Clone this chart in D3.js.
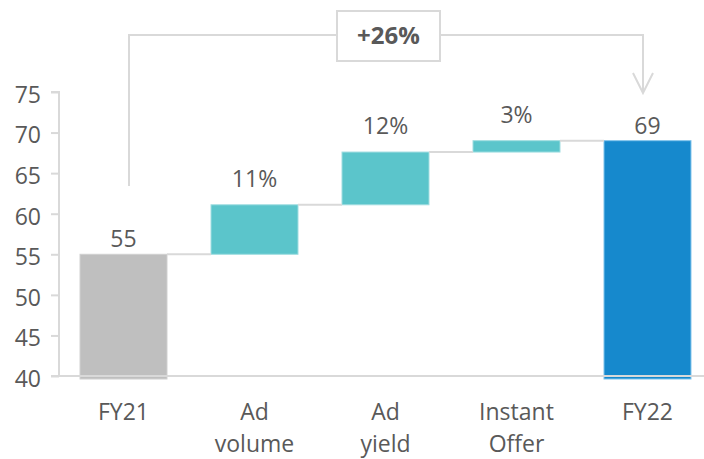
<!DOCTYPE html>
<html>
<head>
<meta charset="utf-8">
<script src="https://cdn.jsdelivr.net/npm/d3@7"></script>
<style>
  html, body { margin: 0; padding: 0; background: #fff; }
  svg { display: block; font-family: "Open Sans", "Noto Sans", sans-serif; }
</style>
</head>
<body>
<svg id="chart" width="704" height="459"></svg>
<script>
// Revenue bridge FY21 -> FY22
const categories = ["FY21", "Ad volume", "Ad yield", "Instant Offer", "FY22"];
const categoryLines = [["FY21"], ["Ad", "volume"], ["Ad", "yield"], ["Instant", "Offer"], ["FY22"]];
const startValue = 55;
const deltas = [6.1, 6.5, 1.4];            // Ad volume, Ad yield, Instant Offer
const endValue = 69;
const deltaLabels = ["11%", "12%", "3%"];
const totalChangeLabel = "+26%";
const yTicks = [40, 45, 50, 55, 60, 65, 70, 75];

const textColor = "#595959";
const lineColor = "#d9d9d9";
const colors = { start: "#bfbfbf", delta: "#5bc5cb", end: "#1689cd" };
const fontSize = 23;

// Build waterfall segments
const bars = [];
bars.push({ cat: categories[0], y0: 40, y1: startValue, type: "start", label: String(startValue) });
let running = startValue;
deltas.forEach((d, i) => {
  bars.push({ cat: categories[i + 1], y0: running, y1: running + d, type: "delta", label: deltaLabels[i] });
  running += d;
});
bars.push({ cat: categories[4], y0: 40, y1: endValue, type: "end", label: String(endValue) });

const svg = d3.select("#chart");

const x = d3.scaleBand().domain(categories).range([36, 735]).padding(0.336);
const y = d3.scaleLinear().domain([40, 75]).range([376, 92]);
const bw = x.bandwidth();

// Bars (they run slightly below the baseline)
svg.append("g").selectAll("rect").data(bars).join("rect")
  .attr("x", d => x(d.cat))
  .attr("y", d => y(d.y1))
  .attr("width", bw)
  .attr("height", d => d.type === "delta" ? y(d.y0) - y(d.y1) : y(d.y0) - y(d.y1) + 3)
  .attr("fill", d => colors[d.type])
  .attr("stroke", d => d.type === "end" ? "#7fc3ec" : d.type === "delta" ? "#9fdde0" : "#d0d0d0")
  .attr("stroke-width", 1);

// Connectors between consecutive bars
const conn = svg.append("g").attr("stroke", lineColor).attr("stroke-width", 2);
for (let i = 0; i < bars.length - 1; i++) {
  const lvl = bars[i].y1;
  conn.append("line")
    .attr("x1", x(bars[i].cat) + bw).attr("x2", x(bars[i + 1].cat))
    .attr("y1", y(lvl)).attr("y2", y(lvl));
}

// Y axis
const yAxis = svg.append("g").attr("transform", "translate(59,0)")
  .call(d3.axisLeft(y).tickValues(yTicks).tickSize(8).tickPadding(10).tickFormat(d3.format("d")));
yAxis.select(".domain").attr("stroke", lineColor).attr("stroke-width", 2)
  .attr("d", `M-8,${y(75)}H0V${y(40)}`);
yAxis.selectAll(".tick line").attr("stroke", lineColor).attr("stroke-width", 2);
yAxis.selectAll(".tick text")
  .attr("fill", textColor).attr("font-size", fontSize)
  .attr("font-family", "'Open Sans', sans-serif").attr("dy", "0.45em");

// Baseline drawn over the bars
svg.append("line")
  .attr("x1", 51).attr("x2", 704)
  .attr("y1", y(40)).attr("y2", y(40))
  .attr("stroke", lineColor).attr("stroke-width", 2);

// Value labels
svg.append("g").selectAll("text").data(bars).join("text")
  .attr("x", d => x(d.cat) + bw / 2)
  .attr("y", d => y(d.y1) - (d.type === "delta" ? 18 : 7))
  .attr("text-anchor", "middle")
  .attr("fill", textColor).attr("font-size", fontSize)
  .text(d => d.label);

// Category labels
const catG = svg.append("g");
categories.forEach((c, i) => {
  const t = catG.append("text")
    .attr("x", x(c) + bw / 2).attr("y", 420)
    .attr("text-anchor", "middle")
    .attr("fill", textColor).attr("font-size", fontSize);
  categoryLines[i].forEach((ln, j) => {
    t.append("tspan").attr("x", x(c) + bw / 2).attr("dy", j === 0 ? 0 : 32).text(ln);
  });
});

// Total change bracket with arrow
const xL = x(categories[0]) + bw / 2 + 5.5;
const xR = x(categories[4]) + bw / 2 - 4.5;
const topY = 35;
svg.append("path")
  .attr("d", `M${xL},186V${topY}H${xR}V92`)
  .attr("fill", "none").attr("stroke", lineColor).attr("stroke-width", 2);
svg.append("path")
  .attr("d", `M${xR - 10},73L${xR},93L${xR + 10},73`)
  .attr("fill", "none").attr("stroke", lineColor).attr("stroke-width", 2);

const boxCx = 388.5;
svg.append("rect")
  .attr("x", boxCx - 51.5).attr("y", 11).attr("width", 103).attr("height", 50)
  .attr("fill", "#fff").attr("stroke", lineColor).attr("stroke-width", 2);
svg.append("text")
  .attr("x", boxCx).attr("y", 44)
  .attr("text-anchor", "middle")
  .attr("fill", textColor).attr("font-size", 24).attr("font-weight", "bold")
  .text(totalChangeLabel);
</script>
</body>
</html>
